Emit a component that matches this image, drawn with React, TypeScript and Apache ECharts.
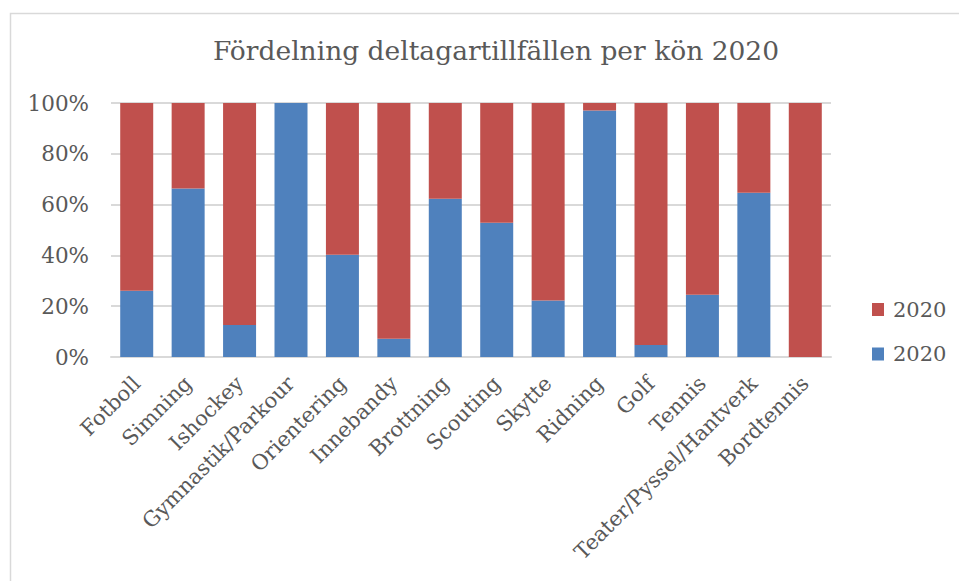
import React, { useEffect, useRef } from "react";
import * as echarts from "echarts";

const categories = [
  "Fotboll",
  "Simning",
  "Ishockey",
  "Gymnastik/Parkour",
  "Orientering",
  "Innebandy",
  "Brottning",
  "Scouting",
  "Skytte",
  "Ridning",
  "Golf",
  "Tennis",
  "Teater/Pyssel/Hantverk",
  "Bordtennis",
];

const blueShare = [26.1, 66.3, 12.6, 100, 40.3, 7.2, 62.3, 52.9, 22.2, 97, 4.7, 24.5, 64.7, 0];
const redShare = [73.9, 33.7, 87.4, 0, 59.7, 92.8, 37.7, 47.1, 77.8, 3, 95.3, 75.5, 35.3, 100];

const seriesLabel = "2020";
const titleText = "Fördelning deltagartillfällen per kön 2020";

const FONT = "DejaVu Serif";
const TEXT = "#595959";

export default function App() {
  const ref = useRef<HTMLDivElement>(null);

  useEffect(() => {
    if (!ref.current) return;
    const chart = echarts.init(ref.current, undefined, { renderer: "svg" });
    chart.setOption({
      animation: false,
      backgroundColor: "#ffffff",
      textStyle: { fontFamily: FONT, color: TEXT },
      title: {
        text: titleText,
        left: 491,
        top: 32,
        textAlign: "center",
        textStyle: { fontFamily: FONT, fontSize: 26.5, fontWeight: "normal", color: TEXT },
      },
      graphic: [
        {
          type: "rect",
          shape: { x: 10.5, y: 13.5, width: 1000, height: 700 },
          style: { fill: "none", stroke: "#d9d9d9", lineWidth: 1.5 },
          silent: true,
        },
      ],
      legend: {
        orient: "vertical",
        left: 872,
        top: 299,
        padding: 0,
        itemWidth: 12,
        itemHeight: 13,
        itemGap: 23.5,
        icon: "rect",
        data: ["K", "M"],
        formatter: () => seriesLabel,
        textStyle: {
          fontFamily: FONT,
          fontSize: 21,
          lineHeight: 21,
          color: TEXT,
          padding: [0, 0, 0, 4],
        },
      },
      grid: { left: 111, right: 128, top: 103, bottom: 224, containLabel: false },
      xAxis: {
        type: "category",
        data: categories,
        axisLine: { lineStyle: { color: "#d9d9d9", width: 2 } },
        axisTick: { show: false },
        axisLabel: {
          rotate: 45,
          interval: 0,
          margin: 23,
          fontFamily: FONT,
          fontSize: 21,
          color: TEXT,
        },
      },
      yAxis: {
        type: "value",
        min: 0,
        max: 100,
        interval: 20,
        axisLine: { show: false },
        axisTick: { show: false },
        splitLine: { lineStyle: { color: "#d9d9d9", width: 2 } },
        axisLabel: {
          formatter: "{value}%",
          margin: 22,
          fontFamily: FONT,
          fontSize: 21.5,
          color: TEXT,
        },
      },
      series: [
        {
          name: "M",
          type: "bar",
          stack: "total",
          data: blueShare,
          barWidth: 33,
          itemStyle: { color: "#4F81BD" },
        },
        {
          name: "K",
          type: "bar",
          stack: "total",
          data: redShare,
          barWidth: 33,
          itemStyle: { color: "#C0504D" },
        },
      ],
    });
    return () => chart.dispose();
  }, []);

  return (
    <div
      ref={ref}
      style={{ position: "fixed", left: 0, top: 0, width: 959, height: 581 }}
    />
  );
}
